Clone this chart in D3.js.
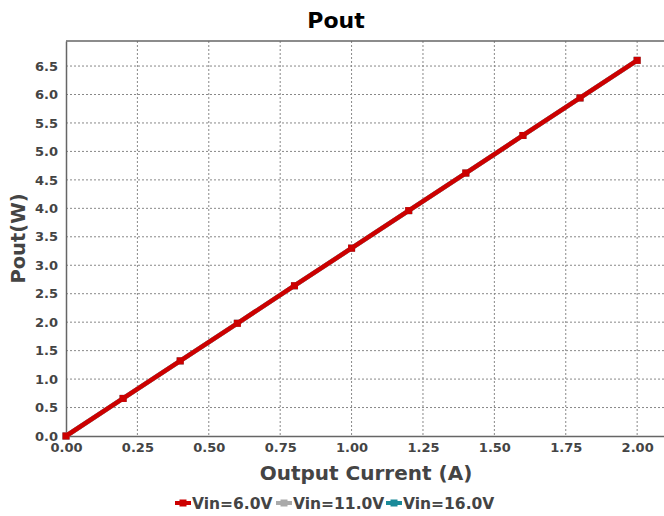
<!DOCTYPE html>
<html>
<head>
<meta charset="utf-8">
<script src="https://cdn.jsdelivr.net/npm/d3@7"></script>
<style>
  body { margin: 0; background: #fff; }
  svg { font-family: "DejaVu Sans", sans-serif; }
</style>
</head>
<body>
<svg id="chart" width="664" height="516"></svg>
<script>
// output current (A)
var current = [0, 0.2, 0.4, 0.6, 0.8, 1.0, 1.2, 1.4, 1.6, 1.8, 2.0];
// Pout (W) per input voltage
var vin6 = [0, 0.66, 1.32, 1.98, 2.64, 3.30, 3.96, 4.62, 5.28, 5.94, 6.60];
var vin11 = [0, 0.66, 1.32, 1.98, 2.64, 3.30, 3.96, 4.62, 5.28, 5.94, 6.60];
var vin16 = [0, 0.66, 1.32, 1.98, 2.64, 3.30, 3.96, 4.62, 5.28, 5.94, 6.60];
var seriesNames = ["Vin=6.0V", "Vin=11.0V", "Vin=16.0V"];
var seriesColors = ["#cc0000", "#aaaaaa", "#1a8a99"];
var xTicks = [0, 0.25, 0.5, 0.75, 1.0, 1.25, 1.5, 1.75, 2.0];
var yTicks = [0, 0.5, 1.0, 1.5, 2.0, 2.5, 3.0, 3.5, 4.0, 4.5, 5.0, 5.5, 6.0, 6.5];

var series = [vin6, vin11, vin16].map(function(vals, i) {
  return {
    name: seriesNames[i],
    color: seriesColors[i],
    points: vals.map(function(v, j) { return {x: current[j], y: v}; })
  };
});

var svg = d3.select("#chart");
var plotLeft = 66, plotTop = 41, plotRight = 664, plotBottom = 436;

var x = d3.scaleLinear().domain([0, 2.094]).range([plotLeft, plotRight]);
var y = d3.scaleLinear().domain([0, 6.94]).range([plotBottom, plotTop]);

// grid
svg.append("g").selectAll("line")
  .data(xTicks.slice(1))
  .enter().append("line")
  .attr("x1", function(d) { return x(d); })
  .attr("x2", function(d) { return x(d); })
  .attr("y1", plotTop).attr("y2", plotBottom)
  .attr("stroke", "#888").attr("stroke-width", 1)
  .attr("stroke-dasharray", "2,2");

svg.append("g").selectAll("line")
  .data(yTicks.slice(1))
  .enter().append("line")
  .attr("x1", plotLeft).attr("x2", plotRight)
  .attr("y1", function(d) { return y(d); })
  .attr("y2", function(d) { return y(d); })
  .attr("stroke", "#888").attr("stroke-width", 1)
  .attr("stroke-dasharray", "2,2");

// frame top
svg.append("line").attr("x1", plotLeft).attr("x2", plotRight).attr("y1", plotTop).attr("y2", plotTop)
  .attr("stroke", "#666").attr("stroke-width", 1.5);

var xAxis = svg.append("g")
  .attr("transform", "translate(0," + plotBottom + ")")
  .call(d3.axisBottom(x).tickValues(xTicks).tickFormat(d3.format(".2f")).tickSize(0).tickPadding(7));
var yAxis = svg.append("g")
  .attr("transform", "translate(" + plotLeft + ",0)")
  .call(d3.axisLeft(y).tickValues(yTicks).tickFormat(d3.format(".1f")).tickSize(0).tickPadding(8));

[xAxis, yAxis].forEach(function(a) {
  a.select(".domain").attr("stroke", "#666").attr("stroke-width", 1.5);
  a.selectAll("text")
    .attr("fill", "#444")
    .style("font-size", "13px")
    .style("font-weight", "bold")
    .style("font-family", "DejaVu Sans, sans-serif");
});

// lines, red drawn last so it sits on top
var line = d3.line()
  .x(function(d) { return x(d.x); })
  .y(function(d) { return y(d.y); });

series.slice().reverse().forEach(function(s) {
  svg.append("path")
    .datum(s.points)
    .attr("fill", "none")
    .attr("stroke", s.color)
    .attr("stroke-width", 4.5)
    .attr("d", line);
  svg.append("g").selectAll("rect")
    .data(s.points)
    .enter().append("rect")
    .attr("x", function(d) { return x(d.x) - 3.5; })
    .attr("y", function(d) { return y(d.y) - 3.5; })
    .attr("width", 7).attr("height", 7)
    .attr("fill", s.color);
});

// titles
svg.append("text")
  .attr("x", 336).attr("y", 28)
  .attr("text-anchor", "middle")
  .style("font-size", "22px").style("font-weight", "bold")
  .attr("fill", "#000")
  .text("Pout");

svg.append("text")
  .attr("x", 366).attr("y", 480)
  .attr("text-anchor", "middle")
  .style("font-size", "20px").style("font-weight", "bold")
  .attr("fill", "#444")
  .text("Output Current (A)");

svg.append("text")
  .attr("transform", "translate(25," + ((plotTop + plotBottom) / 2) + ") rotate(-90)")
  .attr("text-anchor", "middle")
  .style("font-size", "19.5px").style("font-weight", "bold")
  .attr("fill", "#444")
  .text("Pout(W)");

// legend
var legendX = [175, 276, 386];
var legend = svg.append("g").selectAll("g")
  .data(series)
  .enter().append("g")
  .attr("transform", function(d, i) { return "translate(" + legendX[i] + ",503)"; });

legend.append("line")
  .attr("x1", 0).attr("x2", 16).attr("y1", 0).attr("y2", 0)
  .attr("stroke", function(d) { return d.color; })
  .attr("stroke-width", 4);
legend.append("rect")
  .attr("x", 4.5).attr("y", -3.5).attr("width", 7).attr("height", 7)
  .attr("fill", function(d) { return d.color; });
legend.append("text")
  .attr("x", 17).attr("y", 5.5)
  .style("font-size", "15.5px").style("font-weight", "bold")
  .attr("fill", "#444")
  .text(function(d) { return d.name; });
</script>
</body>
</html>
